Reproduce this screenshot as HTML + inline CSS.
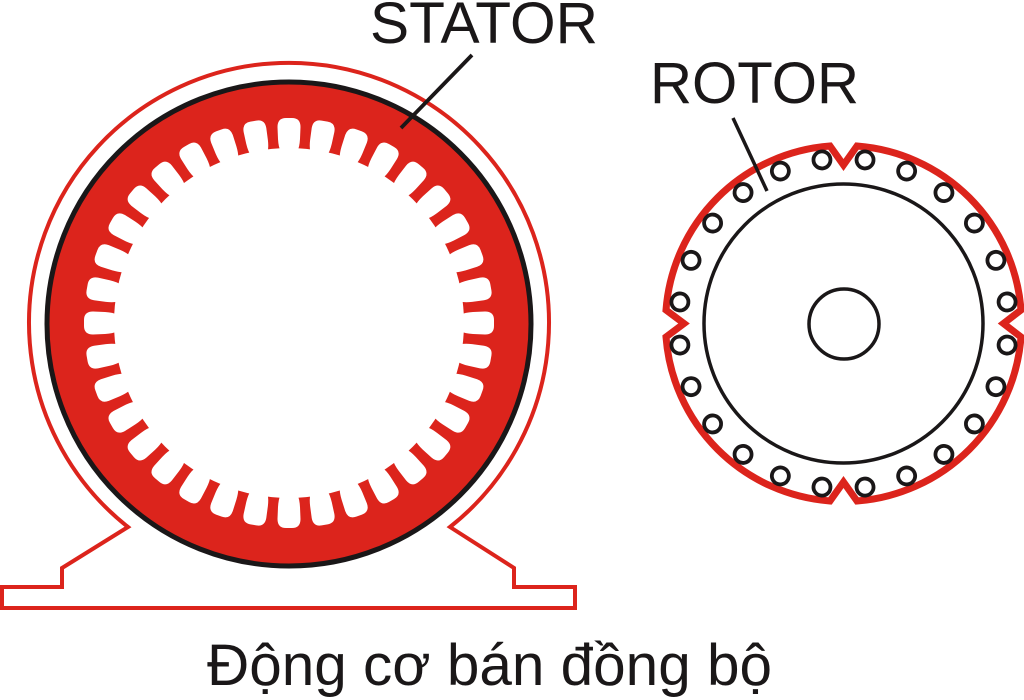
<!DOCTYPE html>
<html><head><meta charset="utf-8"><style>html,body{margin:0;padding:0;background:#fff}svg{display:block}text{font-family:"Liberation Sans","DejaVu Sans",sans-serif;fill:#1a1718}</style></head>
<body><svg width="1024" height="700" viewBox="0 0 1024 700" xmlns="http://www.w3.org/2000/svg">
<defs>
<path id="s" d="M-8.5,-172 Q-10.5,-176 -11,-184 L-11.5,-196 Q-11.5,-205 -3,-205 H3 Q11.5,-205 11.5,-196 L11,-184 Q10.5,-176 8.5,-172 Z" fill="#fff"/>
<circle id="c" cx="0" cy="-165" r="8.5" fill="#fff" stroke="#1a1718" stroke-width="3.8"/>
</defs>
<path d="M128,527 A260,260 0 1 1 450,527 L514,568 V587 H575 V608 H2 V587 H62 V568 Z" fill="#fff" stroke="#dc241c" stroke-width="4"/>
<circle cx="289" cy="324" r="242" fill="#dc241c" stroke="#1a1718" stroke-width="5"/>
<circle cx="289" cy="323" r="175" fill="#fff"/>
<g transform="translate(289,323)">
<use href="#s"/><use href="#s" transform="rotate(10)"/><use href="#s" transform="rotate(20)"/><use href="#s" transform="rotate(30)"/><use href="#s" transform="rotate(40)"/><use href="#s" transform="rotate(50)"/><use href="#s" transform="rotate(60)"/><use href="#s" transform="rotate(70)"/><use href="#s" transform="rotate(80)"/><use href="#s" transform="rotate(90)"/><use href="#s" transform="rotate(100)"/><use href="#s" transform="rotate(110)"/><use href="#s" transform="rotate(120)"/><use href="#s" transform="rotate(130)"/><use href="#s" transform="rotate(140)"/><use href="#s" transform="rotate(150)"/><use href="#s" transform="rotate(160)"/><use href="#s" transform="rotate(170)"/><use href="#s" transform="rotate(180)"/><use href="#s" transform="rotate(190)"/><use href="#s" transform="rotate(200)"/><use href="#s" transform="rotate(210)"/><use href="#s" transform="rotate(220)"/><use href="#s" transform="rotate(230)"/><use href="#s" transform="rotate(240)"/><use href="#s" transform="rotate(250)"/><use href="#s" transform="rotate(260)"/><use href="#s" transform="rotate(270)"/><use href="#s" transform="rotate(280)"/><use href="#s" transform="rotate(290)"/><use href="#s" transform="rotate(300)"/><use href="#s" transform="rotate(310)"/><use href="#s" transform="rotate(320)"/><use href="#s" transform="rotate(330)"/><use href="#s" transform="rotate(340)"/><use href="#s" transform="rotate(350)"/>
</g>
<line x1="472" y1="55" x2="401" y2="128" stroke="#1a1718" stroke-width="3.8"/>
<text x="370" y="43" font-size="58" textLength="228" lengthAdjust="spacingAndGlyphs">STATOR</text>
<text x="650" y="103" font-size="58" textLength="209" lengthAdjust="spacingAndGlyphs">ROTOR</text>
<text x="207" y="685" font-size="58" textLength="565" lengthAdjust="spacingAndGlyphs">Động cơ bán đồng bộ</text>
<path d="M857,146 A178,178 0 0 1 1021,310 L1003.5,323.5 L1021,337 A178,178 0 0 1 857,501 L843.5,482 L830,501 A178,178 0 0 1 666,337 L684,323.5 L666,310 A178,178 0 0 1 830,146 L843.5,165 Z" fill="#fff" stroke="#dc241c" stroke-width="7" stroke-linejoin="miter"/>
<g transform="translate(843.5,323.5)">
<use href="#c" transform="rotate(7.5)"/><use href="#c" transform="rotate(22.5)"/><use href="#c" transform="rotate(37.5)"/><use href="#c" transform="rotate(52.5)"/><use href="#c" transform="rotate(67.5)"/><use href="#c" transform="rotate(82.5)"/><use href="#c" transform="rotate(97.5)"/><use href="#c" transform="rotate(112.5)"/><use href="#c" transform="rotate(127.5)"/><use href="#c" transform="rotate(142.5)"/><use href="#c" transform="rotate(157.5)"/><use href="#c" transform="rotate(172.5)"/><use href="#c" transform="rotate(187.5)"/><use href="#c" transform="rotate(202.5)"/><use href="#c" transform="rotate(217.5)"/><use href="#c" transform="rotate(232.5)"/><use href="#c" transform="rotate(247.5)"/><use href="#c" transform="rotate(262.5)"/><use href="#c" transform="rotate(277.5)"/><use href="#c" transform="rotate(292.5)"/><use href="#c" transform="rotate(307.5)"/><use href="#c" transform="rotate(322.5)"/><use href="#c" transform="rotate(337.5)"/><use href="#c" transform="rotate(352.5)"/>
</g>
<circle cx="843.5" cy="323.5" r="139.5" fill="none" stroke="#1a1718" stroke-width="3.5"/>
<circle cx="844" cy="324" r="35" fill="none" stroke="#1a1718" stroke-width="3.5"/>
<line x1="733" y1="118" x2="767" y2="191" stroke="#1a1718" stroke-width="3.5"/>
</svg></body></html>
